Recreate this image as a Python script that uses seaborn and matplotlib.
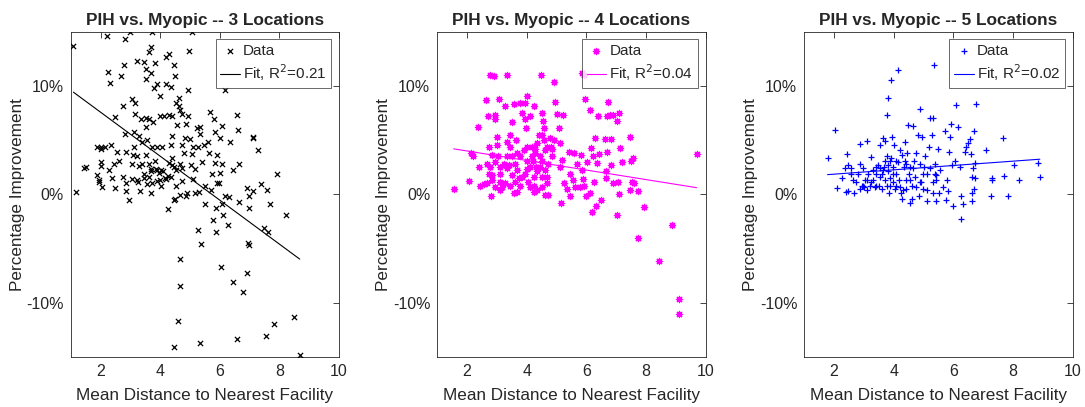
import numpy as np
import pandas as pd
import seaborn as sns
import matplotlib
matplotlib.use('Agg')
import matplotlib.pyplot as plt
from matplotlib.ticker import FuncFormatter

# 3 locations (x = mean distance, y = % improvement)
x3 = [1.09, 2.2, 3.0, 3.73, 5.07, 2.82, 3.68, 3.62, 4.29, 4.18, 4.98, 3.21, 2.79, 3.46, 3.51, 3.81, 4.48,
      2.26, 3.68, 2.67, 4.51, 3.51, 2.31, 3.88, 4.18, 3.79, 4.37, 4.92, 6.16, 3.99, 4.62, 3.04, 3.16, 4.54,
      2.76, 4.63, 4.68, 5.67, 4.74, 3.17, 6.58, 4.31, 2.47, 4.01, 4.12, 4.4, 4.92, 5.8, 3.34, 3.51, 3.62,
      3.76, 4.57, 4.85, 6.08, 5.33, 5.22, 3.54, 6.6, 2.82, 3.12, 5.84, 5.35, 3.29, 4.4, 7.1, 7.11, 4.82,
      5.0, 6.02, 3.57, 3.4, 6.33, 5.62, 7.27, 1.89, 2.0, 2.14, 2.34, 3.12, 3.73, 3.9, 4.07, 4.35, 4.74,
      5.11, 5.26, 5.46, 2.0, 2.56, 2.84, 3.09, 3.23, 3.51, 3.81, 4.4, 4.79, 5.07, 5.65, 5.89, 2.0, 2.62,
      2.45, 3.07, 3.4, 3.62, 4.4, 4.68, 5.02, 5.41, 5.84, 6.08, 6.64, 2.0, 1.45, 1.5, 2.28, 3.68, 3.9,
      4.04, 4.46, 4.54, 4.74, 5.16, 5.74, 6.0, 6.45, 7.92, 1.89, 2.39, 2.76, 3.07, 3.23, 3.46, 3.62, 3.88,
      4.21, 4.35, 4.72, 5.11, 1.95, 1.95, 2.06, 2.48, 2.84, 3.25, 3.57, 3.73, 4.04, 4.52, 5.91, 5.97, 5.49,
      7.38, 6.92, 7.58, 5.71, 7.1, 2.84, 3.32, 4.91, 5.16, 5.3, 1.17, 3.68, 4.68, 4.85, 4.46, 4.51, 2.95,
      6.98, 6.19, 6.3, 5.49, 6.06, 6.64, 7.69, 6.98, 5.87, 4.26, 6.11, 8.22, 5.77, 6.28, 5.27, 5.88, 7.47,
      7.6, 5.37, 6.95, 6.97, 4.66, 6.04, 6.92, 6.45, 4.68, 6.78, 8.48, 4.59, 7.83, 7.55, 5.35, 6.58, 4.48,
      8.68, 3.95, 4.1, 4.25, 3.85, 4.15, 4.3, 3.7, 4.0, 3.3, 3.45]
y3 = [13.7, 14.6, 15.0, 15.0, 15.0, 14.3, 13.6, 13.1, 12.9, 12.7, 13.2, 12.3, 11.9, 12.2, 11.6, 12.1, 11.9,
      11.3, 11.2, 10.9, 10.9, 10.6, 10.3, 10.2, 10.2, 9.8, 9.9, 9.6, 9.6, 9.1, 8.9, 8.8, 8.4, 8.4,
      8.1, 8.1, 7.8, 7.6, 7.4, 7.4, 7.3, 7.3, 7.1, 7.2, 7.2, 7.2, 7.2, 6.9, 6.9, 7.0, 6.9,
      6.7, 6.4, 6.5, 6.3, 6.2, 6.1, 6.2, 5.9, 5.6, 5.7, 5.7, 5.6, 5.4, 5.4, 5.3, 5.2, 5.2,
      5.1, 5.2, 5.0, 4.8, 4.8, 4.8, 4.1, 4.4, 4.4, 4.4, 4.5, 4.4, 4.4, 4.4, 4.4, 4.5, 4.5,
      4.4, 4.4, 4.5, 4.2, 3.9, 3.9, 3.6, 3.5, 3.6, 3.1, 3.3, 3.8, 3.7, 3.8, 3.6, 3.0, 3.1,
      2.8, 2.8, 2.8, 2.8, 2.7, 2.8, 2.7, 3.0, 2.9, 2.8, 2.8, 2.6, 2.4, 2.5, 2.2, 2.1, 2.2,
      2.2, 2.5, 2.2, 2.4, 2.3, 1.9, 2.0, 2.2, 1.9, 1.8, 1.5, 1.6, 1.4, 1.3, 1.5, 1.6, 1.2,
      1.4, 1.6, 1.2, 1.4, 1.3, 1.1, 0.7, 0.6, 1.0, 1.1, 0.9, 1.0, 0.8, 0.8, 1.0, 1.0, 0.8,
      0.9, 0.6, 0.4, 0.4, 0.3, 0.3, 0.3, 0.1, 0.1, 0.2, 0.2, 0.1, -0.1, -0.2, -0.5, -0.4, -0.5,
      -0.2, -0.2, -0.3, -0.9, -0.9, -0.7, -0.9, -1.3, -1.3, -1.4, -1.9, -1.9, -2.4, -2.8, -3.3, -3.5, -3.1,
      -3.5, -4.6, -4.5, -4.7, -6.0, -6.7, -7.3, -8.1, -8.5, -9.0, -11.3, -11.7, -12.0, -13.1, -13.7, -13.4, -14.1,
      -14.8, 2.0, 2.1, 1.7, 2.3, 1.5, 2.9, 2.3, 1.3, 2.6, 1.9]

# 4 locations
x4 = [1.55, 2.08, 2.14, 2.19, 2.37, 2.39, 2.42, 2.65, 2.69, 2.75, 2.78, 2.89, 2.81, 2.67, 2.84, 2.95, 2.95,
      3.0, 3.0, 3.03, 3.06, 3.12, 3.12, 3.17, 3.28, 3.34, 3.34, 3.39, 3.45, 3.51, 3.51, 3.56, 3.58, 3.65,
      3.67, 3.73, 3.79, 3.84, 3.9, 3.93, 3.95, 3.98, 4.01, 4.01, 4.06, 4.12, 4.18, 4.21, 4.23, 4.25, 4.28,
      4.31, 4.4, 4.48, 4.51, 4.54, 4.57, 4.59, 4.62, 4.68, 4.77, 4.81, 4.85, 4.9, 4.96, 5.01, 5.1, 5.13,
      5.16, 5.18, 5.21, 5.26, 5.35, 5.41, 5.44, 5.46, 5.54, 5.57, 5.63, 5.68, 5.79, 5.82, 5.85, 5.93, 5.85,
      5.88, 5.91, 5.96, 5.98, 6.02, 6.11, 6.13, 6.15, 6.18, 6.22, 6.27, 6.3, 6.32, 6.35, 6.38, 6.41, 6.49,
      6.63, 6.65, 6.66, 6.69, 6.69, 6.74, 6.8, 6.82, 6.82, 6.89, 6.91, 7.02, 7.02, 7.05, 7.08, 7.11, 7.13,
      7.19, 7.47, 7.49, 7.53, 7.58, 7.6, 7.47, 7.75, 7.73, 7.95, 8.44, 8.89, 9.11, 9.12, 9.7,
      3.23, 3.34, 3.51, 3.67, 3.84, 3.95, 4.12, 4.23, 4.35, 4.46, 4.51, 4.62, 4.68, 4.73, 4.12, 4.35, 4.51,
      4.62, 4.73, 3.79, 3.62, 3.45, 3.28, 3.12, 2.95, 2.84, 2.67, 2.56, 2.78, 2.95, 3.12, 3.34, 3.62, 3.79,
      4.01, 4.18, 4.29, 4.46, 4.51, 4.01, 4.23, 4.35, 4.68, 4.85, 4.9, 5.13, 4.51, 3.45, 2.73, 2.84, 3.67,
      4.23]
y4 = [0.5, 1.2, 3.8, 3.5, 6.2, 2.5, 0.8, 8.7, 7.2, 4.4, 11.0, 10.9, -0.2, 2.8, 3.6, 7.3, 6.9,
      5.3, 4.5, 3.5, 8.8, 1.9, 1.1, 0.7, 8.1, 11.0, 4.8, 2.7, 5.5, 6.7, 3.5, 0.1, 8.3, 5.0,
      3.8, 1.5, 8.4, 7.5, 4.1, 8.4, 6.9, 6.1, 9.1, 2.3, 1.1, 7.2, 4.4, 3.1, 8.1, 0.2, 4.2,
      2.5, 5.5, 11.0, 7.5, 6.8, 6.1, 5.0, 4.1, 1.0, 5.2, 4.4, 3.5, 10.4, 8.5, 7.4, 6.1, 2.5,
      -0.8, 3.2, 7.3, 1.0, 0.5, 3.9, 1.9, -0.2, 1.3, 3.8, 0.7, 2.8, 0.7, 3.6, 11.2, 11.0, 2.2,
      1.4, 0.8, 8.8, -0.2, 3.0, 0.1, 7.8, 4.3, -1.6, 3.5, 1.1, 5.2, -1.1, 2.9, 7.2, 3.7, -0.5,
      5.1, 2.1, 1.5, 3.9, 7.2, 8.5, 7.3, 5.1, 2.7, 7.3, 1.0, 6.8, -1.9, 1.1, 7.5, 0.0, 4.3,
      3.0, 5.3, 3.1, 1.1, 3.3, 1.0, 0.4, 0.3, -4.0, -1.2, -6.2, -2.8, -9.7, -11.1, 3.7,
      2.8, 2.4, 1.8, 2.2, 1.6, 1.9, 2.5, 1.6, 2.1, 2.5, 1.6, 2.2, 1.6, 2.8, 0.7, 0.4, 0.7,
      -0.1, -0.1, 0.8, 1.1, 0.8, 1.0, 0.4, 0.7, 1.3, 1.0, 0.9, 2.5, 3.0, 2.5, 3.5, 2.8, 3.5,
      3.1, 3.5, 3.8, 3.5, 3.1, 4.4, 4.4, 4.7, 4.4, 4.2, 5.0, 4.7, 5.5, 4.4, 1.9, 1.8, 0.2,
      0.8]

# 5 locations
x5 = [1.78, 2.04, 2.1, 2.28, 2.36, 2.41, 2.44, 2.47, 2.45, 2.55, 2.58, 2.62, 2.66, 2.75, 2.81, 2.86, 2.86,
      2.92, 2.97, 2.99, 3.03, 3.09, 3.09, 3.14, 3.2, 3.25, 3.31, 3.36, 3.42, 3.48, 3.51, 3.55, 3.59, 3.62,
      3.64, 3.67, 3.7, 3.72, 3.76, 3.78, 3.81, 3.81, 3.85, 3.87, 3.89, 3.92, 3.95, 3.98, 4.0, 4.04, 4.07,
      4.09, 4.15, 4.17, 4.2, 4.23, 4.26, 4.29, 4.34, 4.37, 4.4, 4.45, 4.48, 4.5, 4.54, 4.6, 4.62, 4.65,
      4.68, 4.71, 4.76, 4.82, 4.85, 4.87, 4.91, 4.95, 4.99, 5.02, 5.04, 5.1, 5.13, 5.19, 5.21, 5.23, 5.27,
      5.3, 5.32, 5.34, 5.38, 5.41, 5.43, 5.49, 5.51, 5.55, 5.66, 5.71, 5.74, 5.77, 5.83, 5.86, 5.9, 5.92,
      5.96, 5.99, 6.05, 6.08, 6.16, 6.22, 6.24, 6.27, 6.33, 6.38, 6.44, 6.5, 6.55, 6.58, 6.61, 6.63, 6.64,
      6.67, 6.69, 6.7, 6.72, 6.74, 6.75, 7.11, 7.25, 7.28, 7.31, 7.65, 7.69, 7.84, 8.04, 8.2, 8.85, 8.9,
      3.25, 3.42, 3.53, 3.76, 3.87, 3.98, 4.09, 4.2, 4.31, 4.42, 4.54, 4.76, 4.87, 5.1, 5.32, 5.38, 5.43,
      3.7, 3.81, 3.92, 4.15, 4.37, 4.42, 4.54, 4.65, 4.87, 4.99, 3.98, 3.64, 3.53, 3.42, 3.31, 3.09, 2.97,
      2.86]
y5 = [3.3, 5.9, 0.6, 1.5, 2.4, 0.2, 3.7, 2.7, 0.3, 1.9, 2.4, 1.3, 0.1, 1.1, 1.9, 2.8, 4.6,
      0.8, 2.4, 0.7, 1.3, 4.9, 0.4, 1.9, 0.8, 3.4, 1.3, 0.7, 1.9, 2.7, 0.8, 4.5, 0.5, 1.9,
      5.2, 2.5, 1.3, 4.9, 3.5, 7.3, 8.9, 2.1, 0.1, 3.1, 0.8, 10.5, 5.3, 2.5, 4.5, 0.5, 1.9,
      3.1, 11.5, 1.3, 4.1, 0.1, -0.4, 3.6, 2.5, 4.8, 1.3, 3.8, 6.4, 1.9, -0.8, -0.4, 0.8, 6.3,
      3.1, 1.6, 3.8, 5.5, -0.2, 7.9, 1.1, 5.3, 0.5, 2.5, 3.5, -0.6, 0.4, 4.4, 2.4, 7.0, 5.5,
      0.1, 7.0, 11.9, 1.9, -0.6, 1.3, 4.2, 0.1, 2.2, 0.7, 5.8, -0.5, 1.3, 0.3, 3.9, 5.3, 6.5,
      2.7, -1.1, 3.1, 8.2, 6.2, 2.5, -0.2, -2.3, -0.9, 3.9, 4.4, 4.7, 5.1, 3.7, 0.1, -0.6, 1.6,
      2.4, 5.8, 0.5, 1.5, 2.9, 8.3, 4.1, -0.2, 1.3, 1.5, 5.2, 1.7, -0.2, 2.7, 1.3, 2.9, 1.6,
      1.1, 0.8, 1.6, 0.8, 1.5, 1.1, 0.8, 0.7, 0.4, 0.5, 1.3, 0.7, 1.1, 1.9, 1.1, 2.8, 1.8,
      3.1, 2.7, 3.3, 3.0, 3.1, 2.8, 2.5, 2.4, 2.8, 1.9, 1.9, 2.2, 2.4, 2.5, 2.2, 1.3, 0.8,
      0.5]

titles = ['PIH vs. Myopic -- 3 Locations', 'PIH vs. Myopic -- 4 Locations', 'PIH vs. Myopic -- 5 Locations']
r2_labels = ['0.21', '0.04', '0.02']
# fit line (intercept, slope)
fit_intercept = [11.63, 4.87, 1.45]
fit_slope = [-2.03, -0.44, 0.2]
colors = ['black', 'magenta', 'blue']
markers = ['x', (8, 2, 0), '+']   # (8,2,0) = asterisk like matlab '*'
msizes = [14, 20, 22]

sns.set_theme(style='white')
plt.rcParams['font.family'] = ['Liberation Sans', 'DejaVu Sans']

fig = plt.figure(figsize=(10.85, 4.07), dpi=100)
lefts = [0.0652, 0.403, 0.7413]
xs_all = [x3, x4, x5]
ys_all = [y3, y4, y5]

for i in range(3):
    ax = fig.add_axes([lefts[i], 0.1236, 0.2473, 0.7985])
    df = pd.DataFrame({'x': xs_all[i], 'y': ys_all[i]})
    sns.scatterplot(data=df, x='x', y='y', marker=markers[i], color=colors[i],
                    edgecolor=colors[i], s=msizes[i], linewidth=0.9, ax=ax,
                    label='Data', zorder=3)
    fx = np.array([min(xs_all[i]), max(xs_all[i])])
    fy = fit_intercept[i] + fit_slope[i] * fx
    sns.lineplot(x=fx, y=fy, color=colors[i], linewidth=0.8, ax=ax,
                 label='Fit, R$^2$=' + r2_labels[i])
    ax.set_xlim(1, 10)
    ax.set_ylim(-15, 15)
    ax.set_xticks([2, 4, 6, 8, 10])
    ax.set_yticks([-10, 0, 10])
    ax.yaxis.set_major_formatter(FuncFormatter(lambda v, p: '%d%%' % v))
    ax.tick_params(direction='in', length=4, width=0.6, top=True, right=True,
                   labelsize=11.5, colors='#262626', pad=5)
    for s in ax.spines.values():
        s.set_color('#262626')
        s.set_linewidth(0.6)
    ax.set_title(titles[i], fontsize=12.4, fontweight='bold', pad=5)
    ax.set_xlabel('Mean Distance to Nearest Facility', fontsize=12.3, color='#262626', labelpad=7)
    ax.set_ylabel('Percentage Improvement', fontsize=12.3, color='#262626', labelpad=1)
    leg = ax.legend(loc='upper right', fontsize=11, frameon=True, fancybox=False,
                    borderaxespad=0.5, handlelength=1.3, handletextpad=0.2,
                    borderpad=0.3, labelspacing=0.3, edgecolor='#262626')
    leg.get_frame().set_linewidth(0.6)

plt.savefig('out.png', dpi=100)
